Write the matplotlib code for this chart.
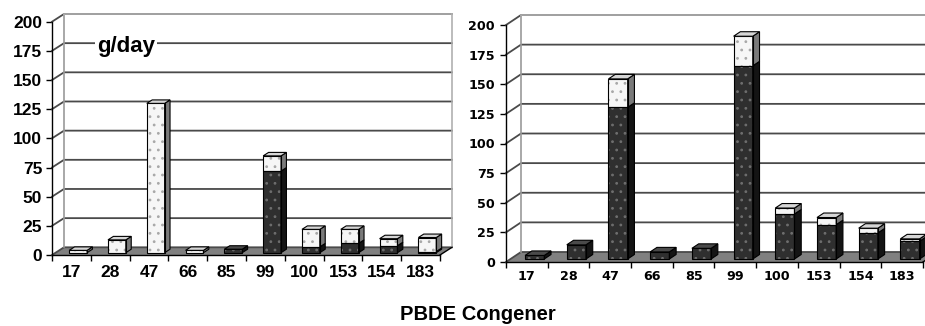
import matplotlib
matplotlib.use("Agg")
import matplotlib.pyplot as plt
from matplotlib.patches import Polygon

# ==================== data ====================
congeners = ["17", "28", "47", "66", "85", "99", "100", "153", "154", "183"]

# left panel (g/day): dark lower part, light upper part
left_dark = [0, 0, 0, 0, 3, 70, 5, 8, 6, 1]
left_light = [2, 11, 128, 2, 0, 13, 15, 12, 6, 12]

# right panel
right_dark = [3, 12, 128, 6, 9, 163, 38, 29, 22, 15]
right_light = [0, 0, 24, 0, 0, 25, 5, 6, 4, 2]

y_ticks = [0, 25, 50, 75, 100, 125, 150, 175, 200]

W, H = 925, 326
fig = plt.figure(figsize=(W / 100, H / 100), dpi=100)
plt.rcParams["hatch.linewidth"] = 0.8

DARK = "#2f2f2f"
LIGHT = "#f6f6f6"


def panel(px_left, px_zero, px_200, px_unit, wall_dx, wall_dy, width, off,
          dark, light, tick_font, label_offset, ytick_pad):
    """one pseudo-3D column chart; wall_dx / wall_dy are in pixels"""
    dx = wall_dx / px_unit
    py = (px_zero - px_200) / 200.0
    dy = wall_dy / py
    xmax = 9.5 + dx
    ymax = 200 + dy
    width_px = (xmax + 0.5) * px_unit
    height_px = ymax * py
    ax = fig.add_axes([px_left / W, (H - px_zero) / H, width_px / W, height_px / H])
    ax.set_xlim(-0.5, xmax)
    ax.set_ylim(0, ymax)
    ax.patch.set_alpha(0)

    # floor
    ax.add_patch(Polygon([(-0.5, 0), (9.5, 0), (9.5 + dx, dy), (-0.5 + dx, dy)],
                         closed=True, fc="#808080", ec="none", zorder=1))
    # back wall gridlines + side wall diagonals
    for v in y_ticks:
        ax.plot([-0.5, -0.5 + dx, xmax], [v, v + dy, v + dy],
                color="#4a4a4a", lw=1.3, zorder=2, clip_on=False)
    ax.plot([-0.5 + dx, -0.5 + dx], [dy, 200 + dy], color="#9a9a9a", lw=1.2, zorder=2)
    ax.plot([xmax, xmax], [dy, 200 + dy], color="#b0b0b0", lw=1.2, zorder=2, clip_on=False)
    ax.plot([-0.5 + dx, xmax], [200 + dy, 200 + dy], color="#b0b0b0", lw=1.2, zorder=2,
            clip_on=False)

    # bars
    f0, f1 = 0.3, 0.75
    bx, by = f0 * dx, f0 * dy
    sx, sy = (f1 - f0) * dx, (f1 - f0) * dy
    for i, (d, l) in enumerate(zip(dark, light)):
        x0 = i + off - width / 2 + bx
        x1 = x0 + width
        segs = []
        if d > 0:
            segs.append((0, d, DARK, "#6e6e6e", "#141414", "#4a4a4a"))
        if l > 0:
            segs.append((d, d + l, LIGHT, "#a8a8a8", "#7a7a7a", "#d6d6d6"))
        for lo, hi, fc, hc, side, top in segs:
            ax.bar(x0, hi - lo, width=width, bottom=lo + by, align="edge",
                   color=fc, edgecolor=hc, hatch="..", linewidth=0, zorder=3)
            ax.bar(x0, hi - lo, width=width, bottom=lo + by, align="edge",
                   fill=False, edgecolor="black", linewidth=0.8, zorder=4)
            ax.add_patch(Polygon([(x1, lo + by), (x1 + sx, lo + by + sy),
                                  (x1 + sx, hi + by + sy), (x1, hi + by)],
                                 closed=True, fc=side, ec="black", lw=0.8, zorder=3))
        top_v = d + l
        top_c = segs[-1][5]
        ax.add_patch(Polygon([(x0, top_v + by), (x1, top_v + by),
                              (x1 + sx, top_v + by + sy), (x0 + sx, top_v + by + sy)],
                             closed=True, fc=top_c, ec="black", lw=0.8, zorder=4))

    # front edges of floor
    ax.plot([9.5, 9.5 + dx], [0, dy], color="black", lw=1.0, zorder=5, clip_on=False)

    for s in ["top", "right"]:
        ax.spines[s].set_visible(False)
    ax.spines["left"].set_bounds(0, 200)
    ax.spines["bottom"].set_bounds(-0.5, 9.5)
    ax.spines["left"].set_linewidth(1.0)
    ax.spines["bottom"].set_linewidth(1.0)
    ax.set_yticks(y_ticks)
    ax.set_yticklabels([str(v) for v in y_ticks], fontsize=tick_font[1],
                       fontweight="bold", family=tick_font[0])
    ax.tick_params(axis="y", direction="out", length=4, width=1, pad=ytick_pad)
    ax.set_xticks([i - 0.5 for i in range(11)])
    ax.set_xticklabels([])
    ax.tick_params(axis="x", direction="out", length=4, width=1)
    for i, lab in enumerate(congeners):
        ax.annotate(lab, xy=(i, 0), xycoords=("data", "axes fraction"),
                    xytext=(0, -label_offset * 0.72), textcoords="offset points",
                    ha="center", va="center", fontsize=tick_font[1],
                    fontweight="bold", family=tick_font[0])
    return ax


ax_left = panel(52, 255, 21.7, 38.8, 12, 7.7, 0.46, 0.08, left_dark, left_light,
                ("Liberation Sans", 12.5), 17.5, 3)
ax_left.text(0.66, 179, "g/day", fontsize=16, fontweight="bold",
             family="Liberation Sans", ha="left", va="center", zorder=6,
             bbox=dict(fc="white", ec="none", pad=1.5))

ax_right = panel(506, 262, 25, 41.7, 15, 10, 0.46, 0.08, right_dark, right_light,
                 ("DejaVu Sans", 9.2), 15, 4)

fig.text(478 / W, 1 - 314 / H, "PBDE Congener", fontsize=14.5, fontweight="bold",
         family="Liberation Sans", ha="center", va="center")

fig.savefig("out.png", dpi=100)
